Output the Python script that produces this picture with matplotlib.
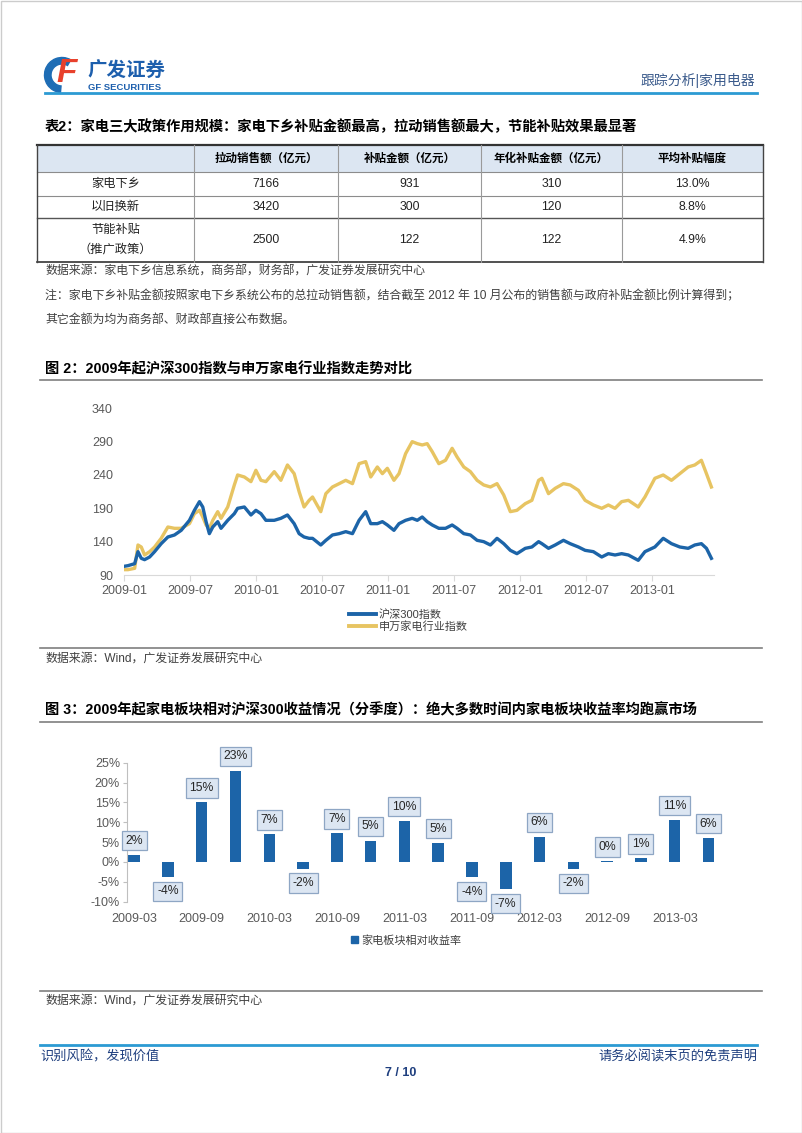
import matplotlib
matplotlib.use('Agg')
import matplotlib.pyplot as plt
from matplotlib.patches import Rectangle, Wedge
from matplotlib.lines import Line2D
from matplotlib.patches import Patch

plt.rcParams['font.family'] = ['Liberation Sans', 'Noto Sans CJK SC', 'DejaVu Sans']

# ---------------- data ----------------
table_header = ['', '拉动销售额（亿元）', '补贴金额（亿元）', '年化补贴金额（亿元）', '平均补贴幅度']
policy_names = ['家电下乡', '以旧换新', '节能补贴\n（推广政策）']
sales = [7166, 3420, 2500]
subsidy = [931, 300, 122]
annual_subsidy = [310, 120, 122]
avg_rate = ['13.0%', '8.8%', '4.9%']

# months since 2009-01
line_months = [0, 0.36, 0.97, 1.27, 1.57, 1.87, 2.33, 2.78, 3.38, 3.99, 4.59, 5.2, 5.95, 6.4,
               6.86, 7.16, 7.46, 7.76, 8.07, 8.52, 8.82, 9.43, 10.03, 10.33, 10.94, 11.54, 11.99,
               12.45, 12.9, 13.66, 14.26, 14.86, 15.47, 15.92, 16.37, 16.83,
               17.14, 17.89, 18.35, 18.95, 19.56, 20.16, 20.77, 21.37, 21.97, 22.43, 23.03, 23.49,
               23.94, 24.54, 25.0, 25.6, 26.2, 26.66, 27.11, 27.56, 28.02, 28.62, 29.23, 29.83,
               30.28, 30.89, 31.49, 32.1, 32.7, 33.31, 33.91, 34.52, 35.12, 35.72,
               36.48, 37.08, 37.69, 37.99, 38.59, 39.2, 39.95, 40.56, 41.31, 41.92, 42.67, 43.43,
               44.03, 44.64, 45.24, 45.85, 46.75, 47.36, 48.26, 49.02, 49.77, 50.53, 51.29, 51.89,
               52.49, 52.95, 53.4]
hs300 = [103, 104, 107, 125, 115, 113, 117, 125, 137, 147, 150, 157, 172, 187, 200, 192, 170, 152,
         162, 170, 160, 172, 182, 190, 192, 180, 187, 182, 172, 172, 175, 180, 167, 152, 147, 145,
         145, 135, 142, 150, 152, 155, 152, 172, 185, 167, 167, 170, 165, 157, 167, 172, 175, 172,
         177, 170, 165, 160, 160, 165, 160, 152, 150, 142, 140, 135, 145, 137, 127, 122,
         130, 132, 140, 137, 130, 135, 142, 137, 132, 127, 125, 117, 122, 120, 122, 120, 112, 125,
         132, 145, 137, 132, 130, 135, 137, 130, 115]
sw_appliance = [98, 98, 100, 135, 132, 120, 125, 132, 145, 162, 160, 160, 167, 182, 187, 177, 165,
                160, 172, 185, 175, 192, 225, 240, 237, 230, 247, 232, 230, 245, 232, 255, 242, 215,
                192, 202,
                207, 185, 212, 222, 227, 232, 227, 257, 260, 237, 252, 242, 250, 232, 242, 272, 290,
                287, 285, 287, 275, 257, 262, 280, 267, 252, 245, 232, 225, 222, 227, 210, 185, 187,
                197, 202, 232, 235, 212, 220, 227, 225, 217, 202, 195, 190, 195, 190, 200, 202, 192,
                207, 235, 240, 232, 242, 252, 255, 262, 242, 222]
line_tick_labels = ['2009-01', '2009-07', '2010-01', '2010-07', '2011-01', '2011-07',
                    '2012-01', '2012-07', '2013-01']

quarters = ['2009-03', '2009-06', '2009-09', '2009-12', '2010-03', '2010-06', '2010-09', '2010-12',
            '2011-03', '2011-06', '2011-09', '2011-12', '2012-03', '2012-06', '2012-09', '2012-12',
            '2013-03', '2013-06']
rel_return = [1.8, -3.8, 15.0, 23.0, 7.0, -1.7, 7.2, 5.4, 10.3, 4.8, -3.9, -6.9, 6.4, -1.8, 0.2,
              0.9, 10.6, 6.0]

# ---------------- page ----------------
W, H = 802, 1133
fig = plt.figure(figsize=(W / 100, H / 100), dpi=100)
pg = fig.add_axes([0, 0, 1, 1], zorder=0)
pg.set_xlim(0, W)
pg.set_ylim(H, 0)
pg.axis('off')


def rect(l, t, r, b):
    return [l / W, 1 - b / H, (r - l) / W, (b - t) / H]


NAVY = '#1D5FAD'
# logo
pg.add_patch(Wedge((62, 75), 17.5, 95, 300, width=6.5, color='#1E6DB5'))
pg.text(67, 74, 'F', color='#E8412C', fontsize=24, fontweight='bold', style='italic',
        ha='center', va='center')
pg.text(87, 71, '广发证券', color=NAVY, fontsize=14, fontweight='bold', va='center', ha='left')
pg.text(88, 87.5, 'GF SECURITIES', color=NAVY, fontsize=6.8, fontweight='bold', va='center', ha='left')
pg.text(755, 80, '跟踪分析|家用电器', color='#3B5B8C', fontsize=10, va='center', ha='right')
pg.plot([45, 757], [93, 93], color='#2C9AD3', lw=2)

# table
pg.text(45, 127, '表2：家电三大政策作用规模：家电下乡补贴金额最高，拉动销售额最大，节能补贴效果最显著',
        fontsize=10.3, fontweight='bold', va='center', ha='left')
cols_x = [37, 194, 338, 481, 622, 763]
rows_y = [145, 172, 195.5, 217.5, 262]
pg.add_patch(Rectangle((37, 145), 726, 27, fc='#DCE6F2', ec='none'))
for y, c, lw in [(145, '#333333', 1.6), (172, '#8C8C8C', 0.8), (195.5, '#8C8C8C', 0.8),
                 (217.5, '#555555', 1.0), (262, '#333333', 1.2)]:
    pg.plot([37, 763], [y, y], color=c, lw=lw)
for i, x in enumerate(cols_x):
    edge = i in (0, len(cols_x) - 1)
    pg.plot([x, x], [145, 262], color='#444444' if edge else '#9A9A9A', lw=1.0 if edge else 0.8)
for j, h in enumerate(table_header):
    cx = (cols_x[j] + cols_x[j + 1]) / 2
    pg.text(cx, 158.5, h, fontsize=8.3, fontweight='bold', ha='center', va='center')
for r, name in enumerate(policy_names):
    cy = (rows_y[r + 1] + rows_y[r + 2]) / 2
    vals = [name, str(sales[r]), str(subsidy[r]), str(annual_subsidy[r]), avg_rate[r]]
    for j, v in enumerate(vals):
        cx = (cols_x[j] + cols_x[j + 1]) / 2
        pg.text(cx, cy, v, fontsize=8.8, ha='center', va='center', linespacing=1.9,
                color='#222222')

src_c = '#404040'
pg.text(45, 272, '数据来源：家电下乡信息系统，商务部，财务部，广发证券发展研究中心', fontsize=8.6,
        color=src_c, va='center')
pg.text(45, 296, '注：家电下乡补贴金额按照家电下乡系统公布的总拉动销售额，结合截至 2012 年 10 月公布的销售额与政府补贴金额比例计算得到；',
        fontsize=8.6, color=src_c, va='center')
pg.text(45, 320, '其它金额为均为商务部、财政部直接公布数据。', fontsize=8.6, color=src_c, va='center')

# figure 2 frame
pg.text(45, 369, '图 2：2009年起沪深300指数与申万家电行业指数走势对比', fontsize=10.3,
        fontweight='bold', va='center')
pg.plot([40, 762], [380, 380], color='#7F7F7F', lw=1.2)
pg.plot([40, 762], [648, 648], color='#7F7F7F', lw=1.2)
pg.text(45, 659, '数据来源：Wind，广发证券发展研究中心', fontsize=8.6, color=src_c, va='center')

# figure 3 frame
pg.text(45, 710, '图 3：2009年起家电板块相对沪深300收益情况（分季度）：绝大多数时间内家电板块收益率均跑赢市场',
        fontsize=10.3, fontweight='bold', va='center')
pg.plot([40, 762], [722, 722], color='#7F7F7F', lw=1.2)
pg.plot([40, 762], [991, 991], color='#7F7F7F', lw=1.2)
pg.text(45, 1001, '数据来源：Wind，广发证券发展研究中心', fontsize=8.6, color=src_c, va='center')

# footer
pg.plot([40, 757], [1045, 1045], color='#2C9AD3', lw=2)
pg.text(40, 1057, '识别风险，发现价值', fontsize=9.5, color='#1F3F7F', va='center')
pg.text(757, 1057, '请务必阅读末页的免责声明', fontsize=9.5, color='#1F3F7F', va='center', ha='right')
pg.text(401, 1073, '7 / 10', fontsize=9, color='#1F3F7F', va='center', ha='center', fontweight='bold')
pg.add_patch(Rectangle((0.5, 0.5), W - 1, H - 1, fc='none', ec='#CCCCCC', lw=1))

# ---------------- line chart ----------------
BLUE = '#1C64A8'
YEL = '#E7C462'
TICKC = '#595959'
ax1 = fig.add_axes(rect(124, 408.3, 713.6, 575), zorder=2)
ax1.patch.set_alpha(0)
ax1.plot(line_months, sw_appliance, color=YEL, lw=2.4, label='申万家电行业指数', solid_joinstyle='round')
ax1.plot(line_months, hs300, color=BLUE, lw=2.4, label='沪深300指数', solid_joinstyle='round')
ax1.set_xlim(0, 53.6)
ax1.set_ylim(90, 340)
ax1.set_yticks(range(90, 341, 50))
ax1.set_xticks(range(0, 49, 6))
ax1.set_xticklabels(line_tick_labels)
for s in ['top', 'right', 'left']:
    ax1.spines[s].set_visible(False)
ax1.spines['bottom'].set_color('#D9D9D9')
ax1.tick_params(axis='x', length=4, color='#D9D9D9', labelsize=9, labelcolor=TICKC, pad=3)
ax1.tick_params(axis='y', length=0, labelsize=9, labelcolor=TICKC, pad=8)
handles = [Line2D([], [], color=BLUE, lw=2.8), Line2D([], [], color=YEL, lw=2.8)]
ax1.legend(handles, ['沪深300指数', '申万家电行业指数'], loc='upper left',
           bbox_to_anchor=(349 / W, 1 - 609 / H), bbox_transform=fig.transFigure,
           frameon=False, fontsize=8, handlelength=2.4, handletextpad=0.3,
           labelspacing=0.1, borderpad=0, borderaxespad=0, labelcolor='#404040')

# ---------------- bar chart ----------------
ax2 = fig.add_axes(rect(127, 762.7, 722, 901.7), zorder=2)
ax2.patch.set_alpha(0)
xs = list(range(len(quarters)))
ax2.bar(xs, rel_return, width=0.34, color=BLUE, zorder=2)
ax2.set_xlim(-0.21, 17.4)
ax2.set_ylim(-10, 25)
ax2.set_yticks(range(-10, 26, 5))
ax2.set_yticklabels([f'{v}%' for v in range(-10, 26, 5)])
ax2.set_xticks(xs[::2])
ax2.set_xticklabels(quarters[::2])
for s in ['top', 'right', 'bottom']:
    ax2.spines[s].set_visible(False)
ax2.spines['left'].set_color('#BFBFBF')
ax2.tick_params(axis='y', length=3, color='#BFBFBF', labelsize=9, labelcolor=TICKC, pad=2)
ax2.tick_params(axis='x', length=0, labelsize=9, labelcolor=TICKC, pad=8)
for x, v in zip(xs, rel_return):
    off = 6 if v >= 0 else -6
    ax2.annotate(f'{round(v):d}%', (x, v), xytext=(0, off), textcoords='offset points',
                 ha='center', va='bottom' if v >= 0 else 'top', fontsize=8.8, color='#262626',
                 bbox=dict(boxstyle='square,pad=0.3', fc='#DCE6F2', ec='#8EA6C4', lw=0.9),
                 zorder=3, annotation_clip=False)
ax2.legend([Patch(color=BLUE)], ['家电板块相对收益率'], loc='center',
           bbox_to_anchor=(406 / W, 1 - 940 / H), bbox_transform=fig.transFigure,
           frameon=False, fontsize=8, handlelength=0.6, handleheight=0.6, handletextpad=0.3,
           borderpad=0, labelcolor='#404040')

fig.savefig('out.png', dpi=100)
